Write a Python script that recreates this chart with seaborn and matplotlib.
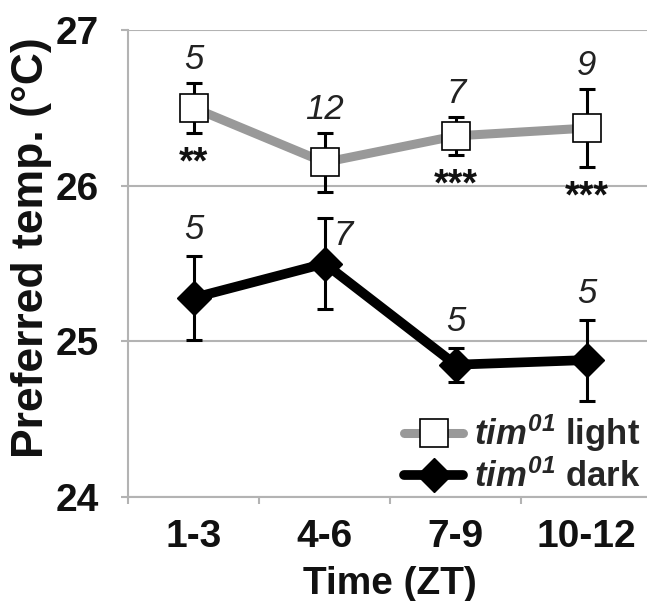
import numpy as np
import pandas as pd
import matplotlib
matplotlib.use("Agg")
import matplotlib.pyplot as plt
import seaborn as sns

# Values (mean +/- SEM, n per point)
time_bins = ["1-3", "4-6", "7-9", "10-12"]
light_mean = [26.50, 26.15, 26.32, 26.37]
light_se = [0.16, 0.19, 0.12, 0.25]
light_n = [5, 12, 7, 9]
light_sig = ["**", "", "***", "***"]
dark_mean = [25.28, 25.50, 24.85, 24.88]
dark_se = [0.27, 0.29, 0.11, 0.26]
dark_n = [5, 7, 5, 5]

sns.set_theme(style="white")
plt.rcParams['font.family'] = ['Liberation Sans', 'DejaVu Sans']
plt.rcParams['mathtext.fontset'] = 'custom'
plt.rcParams['mathtext.it'] = 'Liberation Sans:italic:bold'
plt.rcParams['mathtext.rm'] = 'Liberation Sans:italic:bold'
plt.rcParams['mathtext.default'] = 'it'

x = np.arange(len(time_bins))
light_df = pd.DataFrame({"pos": x, "temp": light_mean})
dark_df = pd.DataFrame({"pos": x, "temp": dark_mean})

fig = plt.figure(figsize=(6.47, 6.01), dpi=100)
ax = fig.add_axes([0.198, 0.173, 0.81, 0.777])

grid_col = "#b3b3b3"

# error bars first, markers sit on top
ax.errorbar(x, light_mean, yerr=light_se, fmt='none', ecolor='black',
            elinewidth=2.2, capsize=5.5, capthick=2.2, zorder=2)
ax.errorbar(x, dark_mean, yerr=dark_se, fmt='none', ecolor='black',
            elinewidth=2.2, capsize=5.5, capthick=2.2, zorder=2)

sns.lineplot(data=light_df, x="pos", y="temp", ax=ax, color="#999999", lw=6.5,
             marker="s", markersize=20, markerfacecolor="white",
             markeredgecolor="black", markeredgewidth=1.2,
             solid_capstyle="round", zorder=3,
             label=r"$tim^{01}$ light")
sns.lineplot(data=dark_df, x="pos", y="temp", ax=ax, color="black", lw=7,
             marker="D", markersize=17, markerfacecolor="black",
             markeredgecolor="black", markeredgewidth=1,
             solid_capstyle="round", zorder=3,
             label=r"$tim^{01}$ dark")

# n per point
for xi, m, s, n in zip(x, light_mean, light_se, light_n):
    ax.annotate(str(n), (xi, m + s), xytext=(0, 5), textcoords="offset points",
                ha="center", va="bottom", fontsize=25, fontstyle="italic",
                color="#222222")
for xi, m, s, n in zip(x, dark_mean, dark_se, dark_n):
    if xi == 1:
        # this label sits beside the error bar
        ax.annotate(str(n), (xi, m + s), xytext=(6, -12), textcoords="offset points",
                    ha="left", va="center", fontsize=25, fontstyle="italic",
                    color="#222222")
    else:
        ax.annotate(str(n), (xi, m + s), xytext=(0, 7), textcoords="offset points",
                    ha="center", va="bottom", fontsize=25, fontstyle="italic",
                    color="#222222")

# significance stars under the light points
for xi, m, s, sig in zip(x, light_mean, light_se, light_sig):
    if sig:
        ax.annotate(sig, (xi, m - s), xytext=(0, -9), textcoords="offset points",
                    ha="center", va="top", fontsize=27, fontweight="bold",
                    color="#111111")

ax.set_xlim(-0.5, 3.5)
ax.set_ylim(24, 27)
ax.set_yticks([24, 25, 26, 27])
ax.set_yticklabels(["24", "25", "26", "27"], fontsize=28, fontweight="bold")
ax.set_xticks(x)
ax.set_xticklabels(time_bins, fontsize=28, fontweight="bold")
ax.set_xticks(np.arange(-0.5, 4, 1), minor=True)
ax.tick_params(axis="x", which="major", length=0, pad=16, colors="#111111")
ax.tick_params(axis="x", which="minor", length=5, width=1.5, color=grid_col,
               direction="out", bottom=True)
ax.tick_params(axis="y", length=5, width=1.5, color=grid_col, pad=16,
               left=True, labelcolor="#111111")

ax.yaxis.grid(True, color=grid_col, lw=1.5)
ax.set_axisbelow(True)
for side in ["top", "right"]:
    ax.spines[side].set_visible(False)
for side in ["left", "bottom"]:
    ax.spines[side].set_color(grid_col)
    ax.spines[side].set_linewidth(1.5)

ax.set_xlabel("Time (ZT)", fontsize=28, fontweight="bold", labelpad=8, color="#111111")
ax.set_ylabel("Preferred temp. (°C)", fontsize=32, fontweight="bold", color="#111111")
ax.yaxis.set_label_coords(-0.145, 0.535)

handles, labels = ax.get_legend_handles_labels()
ax.legend(handles, labels, loc="lower right", bbox_to_anchor=(0.99, 0.178),
          bbox_transform=fig.transFigure, frameon=False, handlelength=1.7,
          handletextpad=0.3, labelspacing=0.15, borderpad=0, borderaxespad=0,
          prop={"size": 25, "weight": "bold"})

plt.savefig("out.png", dpi=100)
